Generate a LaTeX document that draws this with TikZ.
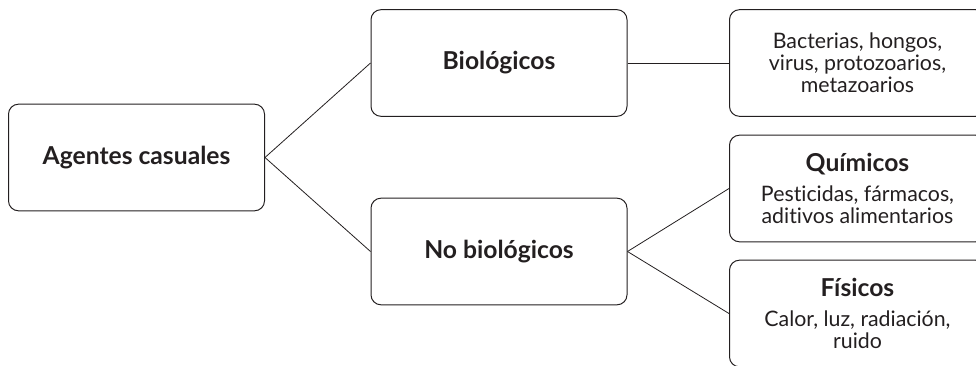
\documentclass[tikz,border=0pt]{standalone}
\usepackage{fontspec}
\setmainfont{Lato}[Ligatures=NoCommon]
\definecolor{inkgray}{RGB}{35,31,32}
\tikzset{every picture/.style={line width=0.75pt}}
\newcommand{\boxhead}[1]{\textbf{\fontsize{18.5}{20}\selectfont #1}}
\begin{document}
\begin{tikzpicture}[x=0.75pt,y=0.75pt,yscale=-1,xscale=1,
  box/.style={draw=inkgray,rounded corners=7.5pt,minimum width=192pt,minimum height=80pt,align=center,text=inkgray,inner sep=0pt},
  title/.style={box,font=\fontsize{18.5}{20}\selectfont\bfseries},
  leaf/.style={box,font=\fontsize{16}{16.5}\selectfont},
  link/.style={draw=inkgray,line width=0.6pt}]
\useasboundingbox (0,0) rectangle (976,365);
\clip (0,0) rectangle (976,365);

% Root
\node [title] (agentes) at (136.5,157.5) {Agentes casuales};

% Second level
\node [title] (bio) at (499,63) {Biológicos};
\node [title] (nobio) at (499,251.5) {No biológicos};

% Leaves
\node [leaf] (bact) at (857.5,63) {Bacterias, hongos,\\virus, protozoarios,\\metazoarios};
\node [leaf] (quim) at (857.5,188.5) {\boxhead{Químicos}\\[6pt]Pesticidas, fármacos,\\aditivos alimentarios};
\node [leaf] (fis) at (857.5,313.5) {\boxhead{Físicos}\\[6pt]Calor, luz, radiación,\\ruido};

% Connectors
\draw [link] (agentes.east) -- (bio.west);
\draw [link] (agentes.east) -- (nobio.west);
\draw [link] (bio.east) -- (bact.west);
\draw [link] (nobio.east) -- (quim.west);
\draw [link] (nobio.east) -- (fis.west);

\end{tikzpicture}
\end{document}
